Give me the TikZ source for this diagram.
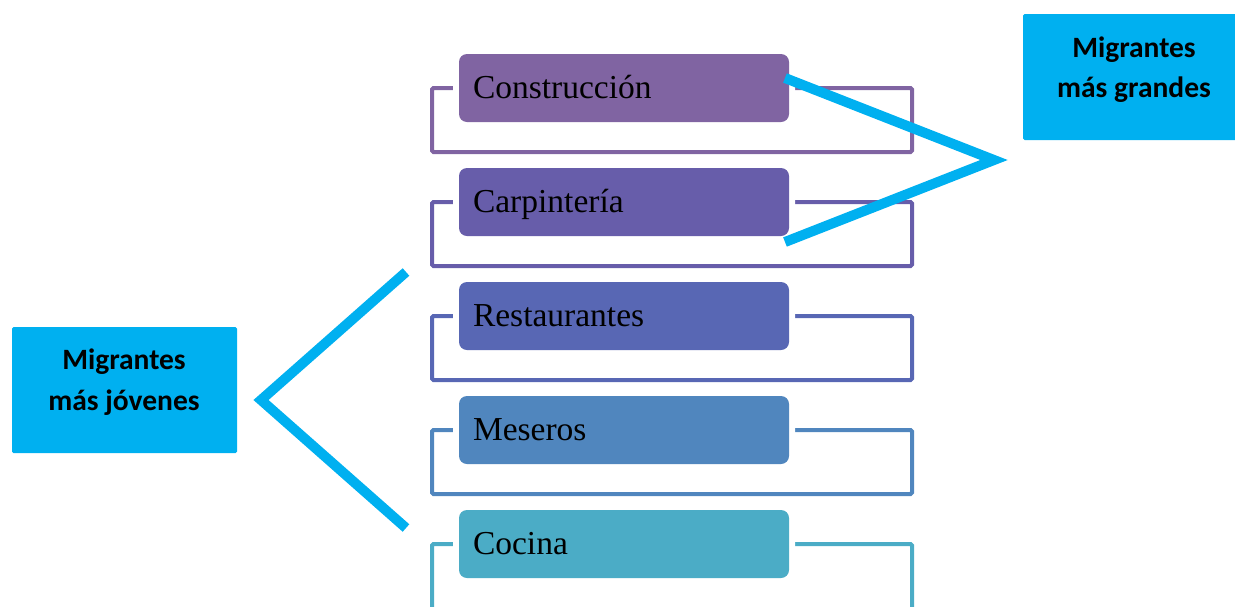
\documentclass[tikz,border=0pt]{standalone}
\usepackage{fontspec}
\setmainfont{Liberation Serif}
\newfontfamily\calib{Carlito}
\definecolor{cA}{HTML}{8064A2}
\definecolor{cB}{HTML}{675DAA}
\definecolor{cC}{HTML}{5867B4}
\definecolor{cD}{HTML}{5086BE}
\definecolor{cE}{HTML}{4BACC6}
\definecolor{skyb}{HTML}{00B0F0}
\begin{document}
\begin{tikzpicture}[x=1pt,y=-1pt,
  outline/.style={line width=4pt, rounded corners=1.5pt},
  itembox/.style={fill=#1, rounded corners=8pt, preaction={draw=white, line width=12pt},
    minimum width=330pt, minimum height=68pt, inner sep=0pt, outer sep=0pt,
    text width=302pt, inner xsep=14pt, align=left, text height=21pt, text depth=0pt,
    font=\fontsize{33.5}{38}\selectfont},
  bluebox/.style={fill=skyb, rounded corners=1.5pt, minimum width=#1, minimum height=126pt, inner sep=0pt},
  bluetxt/.style={anchor=base, font=\calib\bfseries\fontsize{29.5}{34}\selectfont},
  chev/.style={draw=skyb, line width=10pt, miter limit=10}]
\useasboundingbox (0,0) rectangle (1235,606);
% outlines
\draw[outline, cA] (432,88) rectangle (912,152);
\draw[outline, cB] (432,202) rectangle (912,266);
\draw[outline, cC] (432,316) rectangle (912,380);
\draw[outline, cD] (432,430) rectangle (912,494);
\draw[outline, cE] (432,544) rectangle (912,660);
% item boxes
\node[itembox=cA] (b1) at (624,88) {Construcción};
\node[itembox=cB] (b2) at (624,202) {Carpintería};
\node[itembox=cC] (b3) at (624,316) {Restaurantes};
\node[itembox=cD] (b4) at (624,430) {Meseros};
\node[itembox=cE] (b5) at (624,544) {Cocina};
% blue boxes
\node[bluebox=224pt] (older) at (1135,77) {};
\node[bluetxt] (olderA) at (1134,57) {Migrantes};
\node[bluetxt] (olderB) at (1134,97) {más grandes};
\node[bluebox=225pt] (young) at (124.5,390) {};
\node[bluetxt] (youngA) at (124,369) {Migrantes};
\node[bluetxt] (youngB) at (124,410) {más jóvenes};
% chevrons
\coordinate (r1) at (785,78);
\coordinate (rA) at (994,160);
\coordinate (r2) at (785,242);
\coordinate (l1) at (406,272);
\coordinate (lA) at (261,400);
\coordinate (l2) at (406,528);
\draw[chev] (r1) -- (rA) -- (r2);
\draw[chev] (l1) -- (lA) -- (l2);
\end{tikzpicture}
\end{document}
